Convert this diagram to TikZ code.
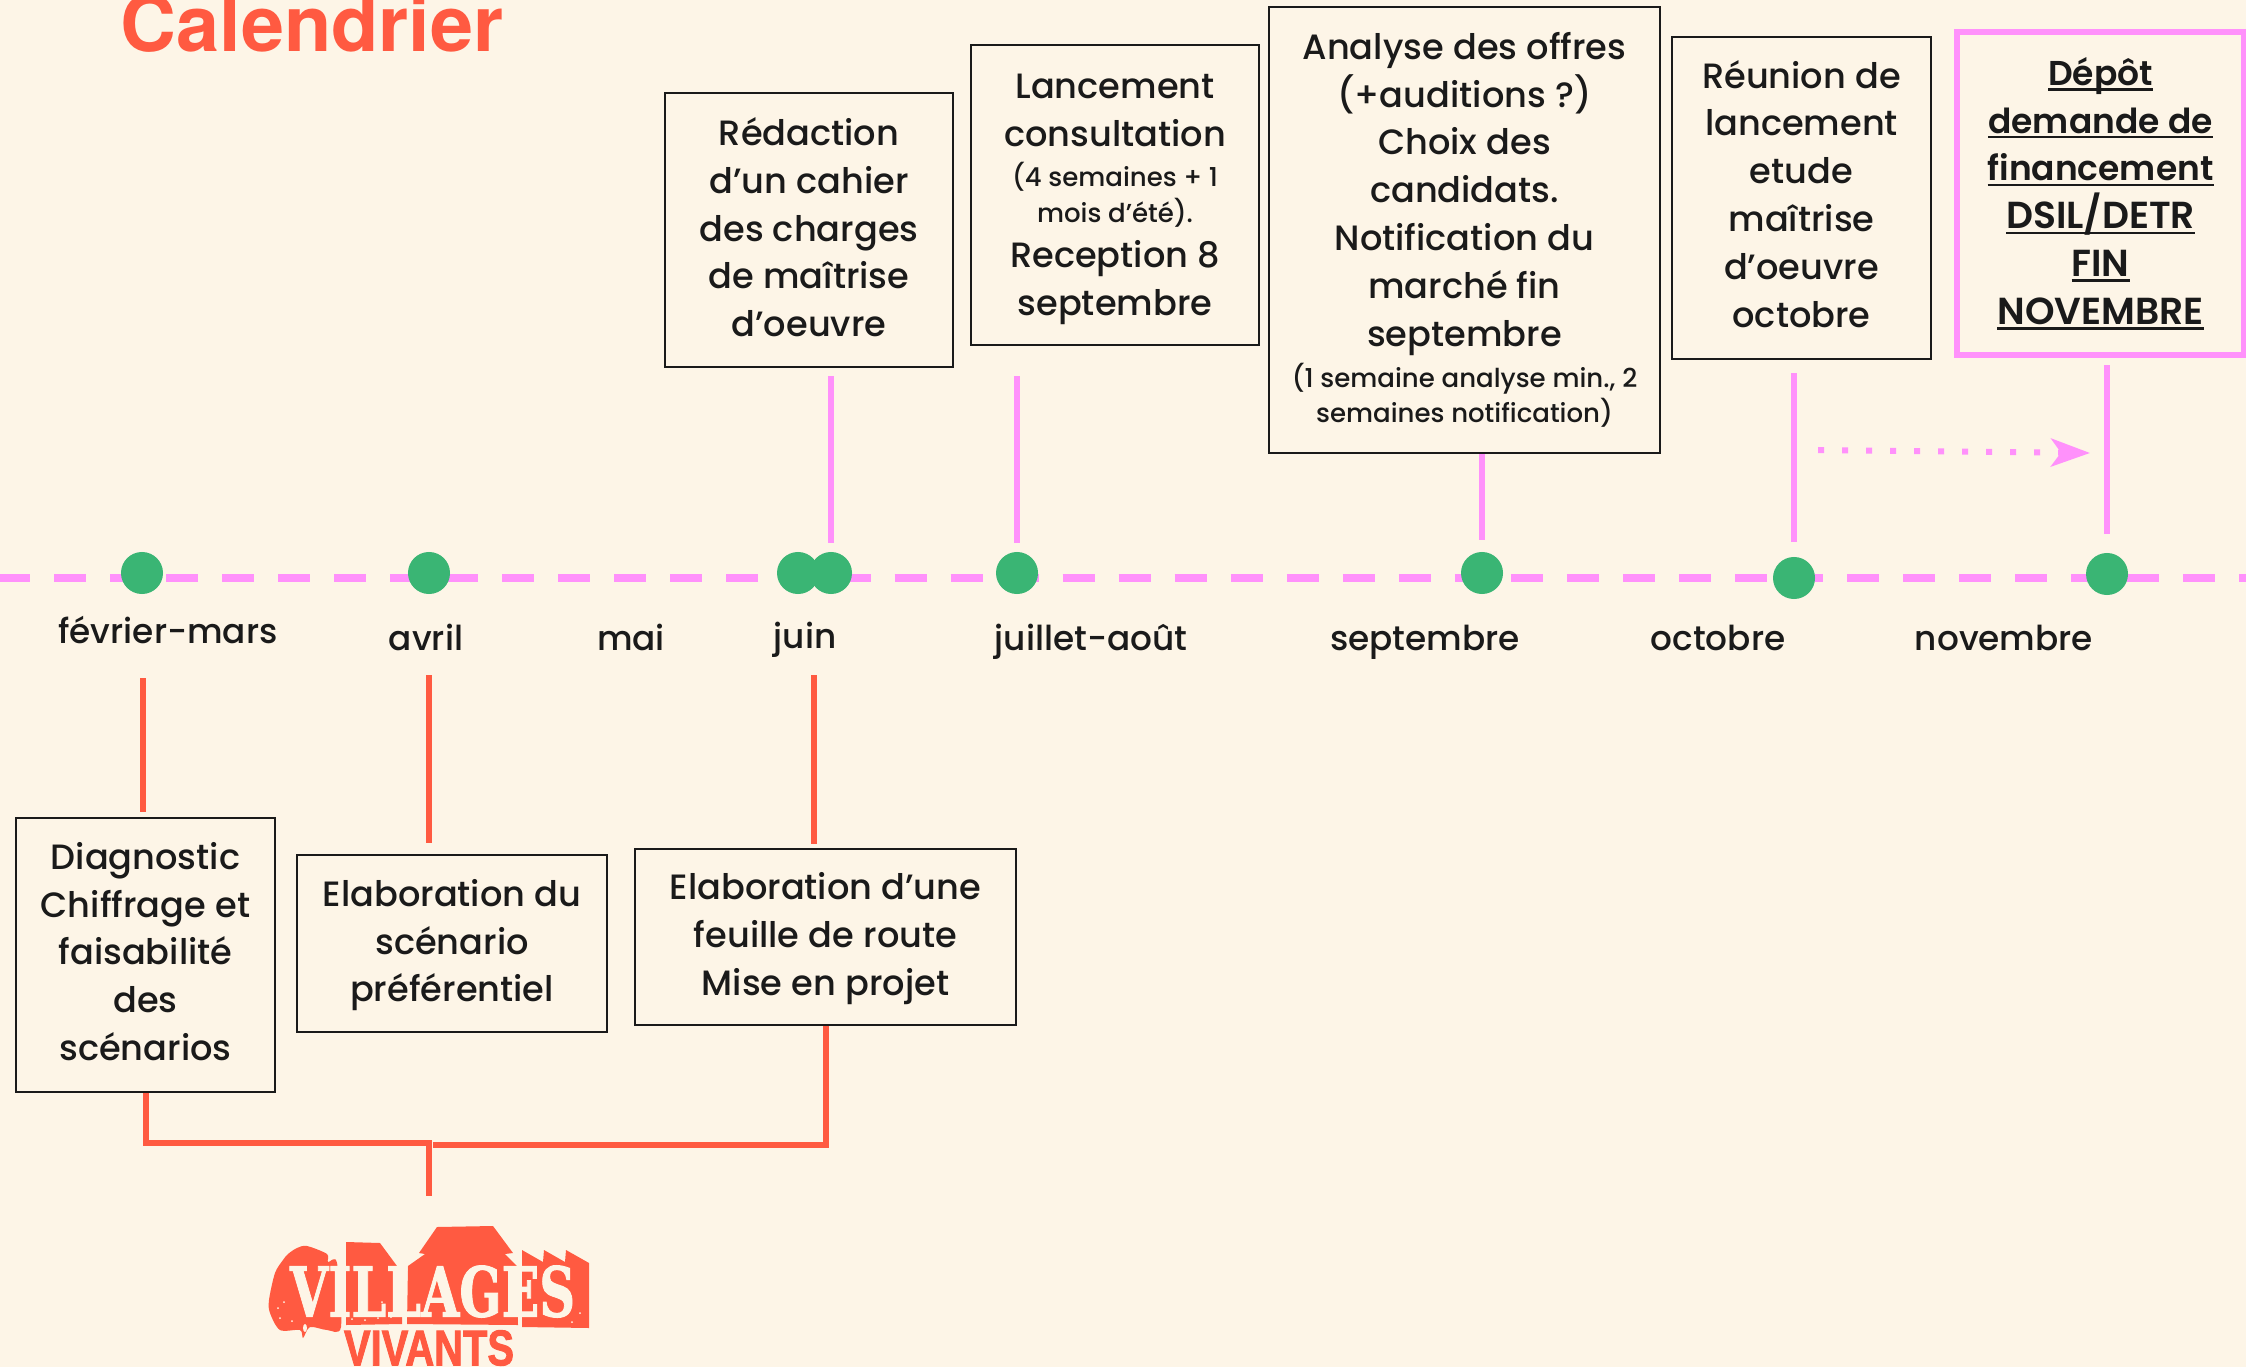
\documentclass[tikz,border=0pt]{standalone}
\usepackage{fontspec}
\usepackage{xcolor}
\usepackage{tikz}
\usetikzlibrary{arrows.meta,positioning,calc}
\setmainfont{Poppins Medium}[BoldFont={Poppins SemiBold}]
\newfontfamily\titrefont{TeX Gyre Heros}
\newfontfamily\logofont[UprightFont={* Bold},FakeBold=1.5]{DejaVu Serif}
\newfontfamily\logosans[UprightFont={* Bold},FakeBold=2]{Liberation Sans}
\definecolor{fond}{HTML}{FDF5E7}
\definecolor{rouge}{HTML}{FF5A41}
\definecolor{rose}{HTML}{FF91FB}
\definecolor{vert}{HTML}{3AB574}
\definecolor{encre}{HTML}{1A1A1A}
\newsavebox{\lignebox}
\newcommand{\souligne}[1]{\sbox{\lignebox}{#1}\rlap{\rule[-1.5pt]{\wd\lignebox}{0.7pt}}\usebox{\lignebox}}
\newcommand{\petit}[1]{{\fontsize{7.4}{10}\selectfont #1}}
\newcommand{\gras}[1]{{\fontsize{9.8}{13.6}\selectfont\bfseries\souligne{#1}}}
\newcommand{\grasmaj}[1]{{\fontsize{10.7}{13.6}\selectfont\bfseries\souligne{#1}}}
\newcommand{\sur}[1]{\rule{0pt}{#1}}
\newcommand{\sous}[1]{\rule[-#1]{0pt}{0pt}}
\tikzset{
    boite/.style={draw=encre, line width=0.025cm, inner sep=0pt, align=center, text=encre,
        font=\fontsize{10}{13.6}\selectfont},
    boiterose/.style={boite, draw=rose, line width=0.06cm},
    mois/.style={anchor=base, inner sep=0pt, text=encre, font=\fontsize{9.75}{13.6}\selectfont},
    jalon/.style={circle, fill=vert, minimum size=0.42cm, inner sep=0pt},
    lienrose/.style={draw=rose, line width=0.06cm},
    lienrouge/.style={draw=rouge, line width=0.06cm}
}

\begin{document}
\begin{tikzpicture}[x=0.01cm, y=-0.01cm]
    \useasboundingbox (0,0) rectangle (2246,1367);
    \clip (0,0) rectangle (2246,1367);
    \fill[fond] (0,0) rectangle (2246,1367);

    % Titre
    \node[anchor=base west, inner sep=0pt, text=rouge, font=\titrefont\bfseries\fontsize{22}{26}\selectfont] (titre) at (120,52) {Calendrier};

    % Frise
    \coordinate (friseA) at (0,578);
    \coordinate (friseB) at (2246,578);
    \draw[rose, line width=0.075cm, dash pattern=on 0.32cm off 0.24cm, dash phase=0.02cm] (friseA) -- (friseB);

    % Jalons
    \foreach \name/\x/\y in {fevrier/142/573, avrilj/429/573, juina/798/573, juinb/831/573,
        juillet/1017/573, sept/1482/573, oct/1794/578, nov/2107/574} {
        \node[jalon] (\name) at (\x,\y) {};
    }

    % Mois
    \foreach \name/\x/\y/\label in {mfev/168/643/février-mars, mavr/426/650/avril, mmai/631/650/mai,
        mjuin/805/648/juin, mjuil/1091/650/juillet-août, msep/1425/650/septembre,
        moct/1718/650/octobre, mnov/2004/650/novembre} {
        \node[mois] (\name) at (\x,\y) {\label};
    }

    % Boites du haut
    \node[boite, minimum width=2.88cm, minimum height=2.74cm] (redaction) at (809,230)
        {Rédaction\\d’un cahier\\des charges\\de maîtrise\\d’oeuvre\sous{1.7pt}};
    \node[boite, minimum width=2.88cm, minimum height=3.00cm] (lancement) at (1115,195)
        {\sur{9.4pt}Lancement\\consultation\\[-2pt]\petit{(4 semaines + 1}\\[-3.4pt]\petit{mois d’été).}\\[-0.8pt]Reception 8\\septembre};
    \node[boite, minimum width=3.91cm, minimum height=4.46cm] (analyse) at (1464.5,230)
        {Analyse des offres\\(+auditions ?)\\Choix des\\candidats.\\Notification du\\marché fin\\septembre\\[-2pt]\petit{(1 semaine analyse min., 2}\\[-3.4pt]\petit{semaines notification)}};
    \node[boite, minimum width=2.59cm, minimum height=3.22cm] (reunion) at (1801.5,198)
        {Réunion de\\lancement\\etude\\maîtrise\\d’oeuvre\\octobre\sous{2.5pt}};
    \node[boiterose, minimum width=2.87cm, minimum height=3.23cm] (depot) at (2100.5,193.5)
        {\gras{Dépôt}\\\gras{demande de}\\\gras{financement}\\\grasmaj{DSIL/DETR}\\\grasmaj{FIN}\\\grasmaj{NOVEMBRE}};

    % Boites du bas
    \node[boite, minimum width=2.59cm, minimum height=2.74cm] (diagnostic) at (145.5,955)
        {Diagnostic\\Chiffrage et\\faisabilité\\des\\scénarios\sous{2.1pt}};
    \node[boite, minimum width=3.10cm, minimum height=1.77cm] (scenario) at (452,943.5)
        {\sur{8.6pt}Elaboration du\\scénario\\préférentiel};
    \node[boite, minimum width=3.81cm, minimum height=1.76cm] (feuille) at (825.5,937)
        {\sur{8.6pt}Elaboration d’une\\feuille de route\\Mise en projet};

    % Liens roses
    \draw[lienrose, shorten <=0.08cm, shorten >=0.08cm] (redaction.south -| juinb.north) -- (juinb.north);
    \draw[lienrose, shorten <=0.30cm, shorten >=0.08cm] (lancement.south -| juillet.north) -- (juillet.north);
    \draw[lienrose, shorten >=0.11cm] (analyse.south -| sept.north) -- (sept.north);
    \draw[lienrose, shorten <=0.13cm, shorten >=0.14cm] (reunion.south -| oct.north) -- (oct.north);
    \draw[lienrose, shorten <=0.07cm, shorten >=0.18cm] (depot.south -| nov.north) -- (nov.north);

    % Report vers novembre
    \coordinate (reportA) at (1818,450);
    \coordinate (reportB) at (2090,453);
    \draw[rose, line width=0.06cm, dash pattern=on 0.06cm off 0.18cm,
        -{Stealth[length=0.39cm, width=0.28cm, inset=0.1cm]}] (reportA) -- (reportB);

    % Liens rouges
    \coordinate (hautA) at (143,678);
    \coordinate (hautB) at (429,675);
    \coordinate (hautC) at (814,675);
    \draw[lienrouge, shorten >=0.05cm] (hautA) -- (hautA |- diagnostic.north);
    \draw[lienrouge, shorten >=0.11cm] (hautB) -- (hautB |- scenario.north);
    \draw[lienrouge, shorten >=0.04cm] (hautC) -- (hautC |- feuille.north);

    % Accolade vers le logo
    \coordinate (logohaut) at (429,1196);
    \coordinate (accolade) at (433,1145);
    \draw[lienrouge] (diagnostic.south) |- (429,1143) -- (logohaut);
    \draw[lienrouge] (feuille.south) |- (accolade);

    % Logo
    \fill[rouge] plot[smooth cycle, tension=0.5] coordinates {(307,1246) (327,1254) (328,1262) (337,1263)
        (341,1327) (327,1330) (310,1327) (303,1338) (300,1330) (280,1330) (270,1313) (269,1300)
        (275,1273) (283,1260) (288,1254) (297,1248)};
    \fill[rouge] (346,1242) -- (380,1243) -- (397,1266) -- (402,1266) -- (402,1324) -- (346,1325) -- cycle;
    \fill[rouge] (407,1324) -- (408,1266) -- (425,1254) -- (419,1253) -- (437,1227) -- (493,1226)
        -- (513,1253) -- (505,1254) -- (517,1266) -- (518,1325) -- cycle;
    \fill[rouge] (522,1250) -- (543,1262) -- (544,1250) -- (565,1262) -- (566,1250) -- (589,1263)
        -- (589,1328) -- (522,1327) -- cycle;
    \foreach \x/\y in {278/1308, 284/1302, 280/1318, 292/1321, 352/1319, 365/1320, 378/1318, 391/1317, 382/1302, 580/1313, 572/1322} {
        \fill[fond] (\x,\y) circle (1);
    }
    \fill[fond] (305,1328) ellipse (2 and 4);
    \node[inner sep=0pt, text=fond] (villages) at (432.5,1291.5)
        {\resizebox{2.85cm}{0.51cm}{\logofont VILLAGES}};
    \node[inner sep=0pt, text=rouge] (vivants) at (429,1348)
        {\resizebox{1.70cm}{0.35cm}{\logosans VIVANTS}};
\end{tikzpicture}
\end{document}
